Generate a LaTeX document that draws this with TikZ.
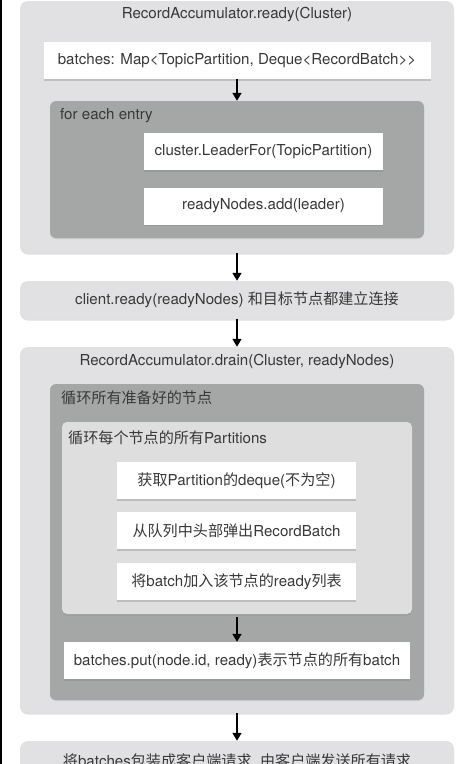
\documentclass[tikz,border=0pt]{standalone}
\usepackage{fontspec}
\setmainfont{TeX Gyre Heros}
\newfontfamily\cjk{Noto Sans CJK SC}
\usetikzlibrary{arrows.meta,shadows}

\definecolor{panelgray}{HTML}{E1E1E3}
\definecolor{loopgray}{HTML}{A5A7A7}
\definecolor{innergray}{HTML}{DEDEDF}
\definecolor{textgray}{HTML}{383838}

\begin{document}
\begin{tikzpicture}[x=1pt, y=-1pt,
    font=\fontsize{15.1}{18}\selectfont, text=textgray,
    panel/.style={rounded corners=8pt, fill=panelgray, minimum width=434pt, inner sep=0pt,
        drop shadow={opacity=0.25, shadow xshift=0pt, shadow yshift=-1.5pt}},
    loopbox/.style={rounded corners=6pt, fill=loopgray, minimum width=374pt, inner sep=0pt,
        drop shadow={opacity=0.2, shadow xshift=0pt, shadow yshift=-1pt}},
    innerbox/.style={rounded corners=5pt, fill=innergray, minimum width=350pt, minimum height=192pt, inner sep=0pt,
        drop shadow={opacity=0.3, shadow xshift=0pt, shadow yshift=-1.5pt}},
    stepbox/.style={fill=white, minimum width=239pt, minimum height=37pt, inner sep=0pt,
        drop shadow={opacity=0.35, shadow xshift=0pt, shadow yshift=-1.5pt}},
    flow/.style={-{Triangle[length=8pt,width=9pt]}, line width=1.6pt, black}]

        \clip (0, 0) rectangle (469, 764);
        \draw[line width=1.5pt] (0.75, 0) -- (0.75, 764);

        % RecordAccumulator.ready
        \node[panel, minimum height=252pt] at (237, 127)  (ready)    {};
        \node at (237, 15)  (readytitle)    {RecordAccumulator.ready(Cluster)};
        \node[stepbox, minimum width=387pt] at (237, 60.5)  (batches)    {batches: Map<{}TopicPartition, Deque<{}RecordBatch>{}>};
        \node[loopbox, minimum height=137pt] at (237, 169.5)  (entryloop)    {};
        \node[anchor=west, inner sep=0pt] at (60, 116)  (entrylabel)    {for each entry};
        \node[stepbox] at (263.5, 151.5)  (leader)    {cluster.LeaderFor(TopicPartition)};
        \node[stepbox] at (263.5, 206)  (addready)    {readyNodes.add(leader)};

        % client.ready
        \node[panel, minimum height=38pt] at (237, 300)  (client)    {client.ready(readyNodes) {\cjk 和目标节点都建立连接}};

        % RecordAccumulator.drain
        \node[panel, minimum height=366pt] at (237, 530)  (drain)    {};
        \node at (237, 361)  (draintitle)    {RecordAccumulator.drain(Cluster, readyNodes)};
        \node[loopbox, minimum height=316pt] at (237, 542)  (nodeloop)    {};
        \node[anchor=west, inner sep=0pt] at (61, 398)  (nodelabel)    {\cjk 循环所有准备好的节点};
        \node[innerbox] at (237, 518)  (partloop)    {};
        \node[anchor=west, inner sep=0pt] at (68, 438)  (partlabel)    {{\cjk 循环每个节点的所有}Partitions};
        \node[stepbox] at (236.5, 480.5)  (deque)    {{\cjk 获取}Partition{\cjk 的}deque({\cjk 不为空})};
        \node[stepbox] at (236.5, 530.5)  (poll)    {{\cjk 从队列中头部弹出}RecordBatch};
        \node[stepbox] at (236.5, 581.5)  (append)    {{\cjk 将}batch{\cjk 加入该节点的}ready{\cjk 列表}};
        \node[stepbox, minimum width=346pt] at (237, 660.5)  (put)    {batches.put(node.id, ready){\cjk 表示节点的所有}batch};

        % send
        \node[panel, minimum height=40pt] at (237, 761)  (send)    {{\cjk 将}batches{\cjk 包装成客户端请求}, {\cjk 由客户端发送所有请求}};

        \draw[flow]  (batches) -- (entryloop);
        \draw[flow]  (ready) -- (client);
        \draw[flow]  (client) -- (drain);
        \draw[flow, shorten <=3pt]  (partloop) -- (put);
        \draw[flow]  (drain) -- (send);

    \end{tikzpicture}
\end{document}
